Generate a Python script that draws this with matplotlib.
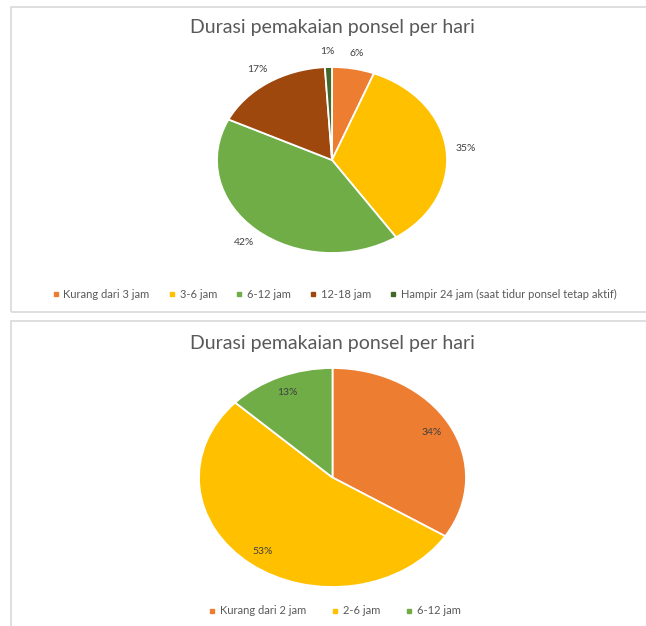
import matplotlib
matplotlib.use('Agg')
import matplotlib.pyplot as plt
from matplotlib.patches import Rectangle
from matplotlib.lines import Line2D

plt.rcParams['font.family'] = ['Lato', 'DejaVu Sans']

title = 'Durasi pemakaian ponsel per hari'

# chart 1
labels_top = ['Kurang dari 3 jam', '3-6 jam', '6-12 jam', '12-18 jam',
              'Hampir 24 jam (saat tidur ponsel tetap aktif)']
values_top = [6, 35, 42, 17, 1]
colors_top = ['#ED7D31', '#FFC000', '#70AD47', '#9E480E', '#43682B']

# chart 2
labels_bot = ['Kurang dari 2 jam', '2-6 jam', '6-12 jam']
values_bot = [34, 53, 13]
colors_bot = ['#ED7D31', '#FFC000', '#70AD47']

W, H = 646, 626
fig = plt.figure(figsize=(W / 100, H / 100), dpi=100)
fig.patch.set_facecolor('white')

def px_axes(x0, y0, x1, y1):
    # pixel box (top-left origin) -> figure axes
    return fig.add_axes([x0 / W, 1 - y1 / H, (x1 - x0) / W, (y1 - y0) / H])

# chart frames
for (x0, y0, x1, y1) in [(11, 7, 652, 312), (11, 321, 652, 630)]:
    fig.patches.append(Rectangle((x0 / W, 1 - y1 / H), (x1 - x0) / W, (y1 - y0) / H,
                                 transform=fig.transFigure, fill=False,
                                 edgecolor='#d9d9d9', linewidth=1.2))

def draw_pie(box, values, colors, pctdist, title_y, legend_y, labels, colsp):
    ax = px_axes(*box)
    total = sum(values)
    wedges, texts, autotexts = ax.pie(
        values, colors=colors, startangle=90, counterclock=False,
        autopct=lambda p: '{:.0f}%'.format(p * total / 100),
        pctdistance=pctdist,
        wedgeprops=dict(edgecolor='white', linewidth=1.3),
        textprops=dict(color='#404040', fontsize=7.5))
    ax.set_aspect('auto')
    ax.set_xlim(-1, 1)
    ax.set_ylim(-1, 1)
    for t in autotexts:
        t.set_clip_on(False)
    fig.text(332 / W, 1 - title_y / H, title, ha='center', va='center',
             fontsize=14, color='#595959')
    handles = [Line2D([], [], marker='s', linestyle='none', markersize=3.5,
                      markerfacecolor=c, markeredgecolor=c) for c in colors]
    fig.legend(handles, labels, loc='center', bbox_to_anchor=(334 / W, 1 - legend_y / H),
               ncol=len(labels), frameon=False, fontsize=8, handlelength=0.8,
               handletextpad=0.3, columnspacing=colsp, labelcolor='#595959')
    return ax

draw_pie((217, 67, 447, 253), values_top, colors_top, 1.17, 28, 294, labels_top, 1.6)
draw_pie((199, 368, 466, 587), values_bot, colors_bot, 0.85, 344, 611, labels_bot, 2.2)

fig.savefig('out.png', dpi=100, facecolor='white')
